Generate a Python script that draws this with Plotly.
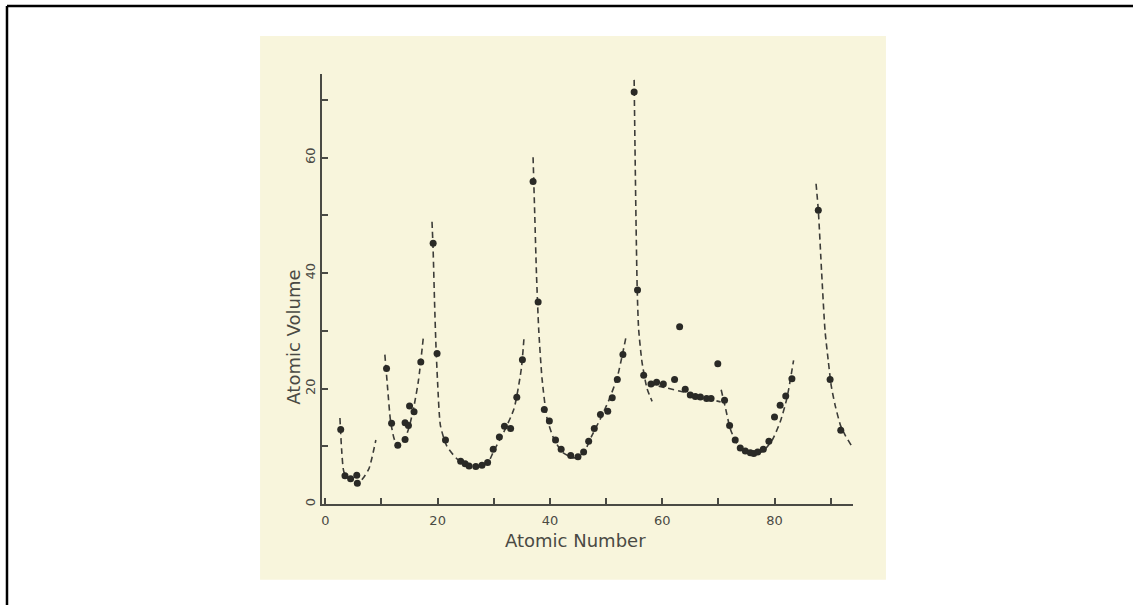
import plotly.graph_objects as go

# ---------------- data ----------------
# measured points: atomic number vs atomic volume
pts_x = [2.74, 3.5, 4.5, 5.6, 5.7,
         10.9, 11.8, 12.9, 14.2, 14.2, 14.8, 15.0, 15.8, 17.0,
         19.2, 19.9, 21.4, 24.1, 24.9, 25.6, 26.8, 27.9, 28.9, 29.9, 31.0, 31.9, 33.0, 34.1, 35.1,
         37.0, 37.9, 39.0, 39.9, 41.0, 42.0, 43.7, 45.0, 46.0, 46.9, 47.9, 49.0, 50.3, 51.1, 52.0, 53.0,
         55.0, 55.6, 56.7, 58.0, 59.0, 60.2, 62.2, 63.1, 64.1, 65.0, 65.9, 66.8, 67.9, 68.7, 69.9, 71.1,
         72.0, 73.0, 73.9, 74.8, 75.7, 76.3, 77.0, 78.0, 79.0, 80.0, 81.0, 82.0, 83.1,
         87.8, 89.9, 91.8]
pts_y = [12.9, 4.9, 4.4, 5.0, 3.6,
         23.5, 14.0, 10.2, 11.2, 14.1, 13.6, 17.0, 16.0, 24.6,
         45.2, 26.1, 11.1, 7.4, 7.0, 6.6, 6.5, 6.7, 7.2, 9.5, 11.6, 13.5, 13.1, 18.5, 25.0,
         55.9, 35.0, 16.4, 14.4, 11.1, 9.5, 8.4, 8.2, 9.0, 10.9, 13.1, 15.5, 16.1, 18.4, 21.6, 25.9,
         71.4, 37.1, 22.3, 20.8, 21.1, 20.8, 21.6, 30.7, 19.9, 18.9, 18.65, 18.55, 18.3, 18.3, 24.3, 18.0,
         13.6, 11.1, 9.7, 9.2, 8.9, 8.75, 9.0, 9.5, 10.9, 15.1, 17.1, 18.7, 21.7,
         50.9, 21.6, 12.8]

# hand-drawn dashed curves (one per period segment)
c1_x = [2.6, 2.9, 3.3, 4.2, 5.6, 6.9, 7.8, 9.0]
c1_y = [14.9, 9.5, 5.6, 4.3, 3.3, 4.7, 6.2, 11.1]

c2_x = [10.6, 11.1, 11.6, 12.2, 12.8, 13.5, 14.2, 15.0, 15.8, 16.6, 17.5]
c2_y = [25.9, 20.0, 14.5, 11.5, 10.1, 10.3, 11.3, 13.6, 17.0, 21.5, 29.3]

c3_x = [19.0, 19.2, 19.45, 19.7, 20.0, 20.5, 21.6, 23.5, 26.6, 28.9, 30.0, 31.8, 33.6, 34.9, 35.4]
c3_y = [48.9, 44.0, 35.0, 27.5, 21.0, 13.6, 10.1, 7.8, 6.4, 7.1, 9.2, 12.5, 16.5, 23.4, 29.0]

c4_x = [37.0, 37.3, 37.6, 38.0, 38.6, 39.5, 40.7, 42.2, 44.3, 46.0, 47.5, 49.0, 50.5, 52.0, 53.5]
c4_y = [60.1, 50.0, 40.0, 30.3, 21.7, 14.8, 11.3, 9.0, 8.0, 8.9, 11.9, 14.8, 18.0, 22.0, 28.7]

c5_x = [55.0, 55.15, 55.35, 55.55, 55.8, 56.4, 57.3, 58.2]
c5_y = [73.5, 62.0, 48.0, 37.0, 30.3, 24.6, 20.0, 17.8]

c6_x = [57.6, 60.9, 63.8, 66.8, 70.4]
c6_y = [20.8, 20.1, 19.4, 18.55, 17.7]

c7_x = [70.5, 71.3, 72.1, 73.3, 75.1, 76.6, 78.1, 79.6, 81.0, 82.2, 83.4]
c7_y = [19.8, 16.5, 13.1, 10.5, 9.05, 8.6, 9.3, 11.1, 14.2, 18.3, 24.9]

c8_x = [87.4, 87.8, 88.4, 89.0, 89.6, 90.1, 90.8, 91.8, 92.6, 93.7]
c8_y = [55.5, 50.9, 40.0, 30.0, 24.6, 20.5, 17.1, 13.5, 11.9, 10.1]

x_ticks = [0, 10, 20, 30, 40, 50, 60, 70, 80, 90]
x_tick_text = ['0', '', '20', '', '40', '', '60', '', '80', '']
y_ticks = [0, 10, 20, 30, 40, 50, 60, 70]
y_tick_text = ['0', '', '20', '', '40', '', '60', '']

# ---------------- figure ----------------
W, H = 1133, 607
INK = '#4a4a44'
LINE = '#3c3c38'
DOT = '#2a2a26'
CREAM = '#f8f5dc'
FONT = 'DejaVu Sans'

fig = go.Figure()

curves = [(c1_x, c1_y), (c2_x, c2_y), (c3_x, c3_y), (c4_x, c4_y),
          (c5_x, c5_y), (c6_x, c6_y), (c7_x, c7_y), (c8_x, c8_y)]
for cx, cy in curves:
    fig.add_trace(go.Scatter(x=cx, y=cy, mode='lines',
                             line=dict(color=LINE, width=1.6, dash='6px,4px',
                                       shape='spline', smoothing=0.6),
                             hoverinfo='skip', showlegend=False))

fig.add_trace(go.Scatter(x=pts_x, y=pts_y, mode='markers',
                         marker=dict(color=DOT, size=7, line=dict(width=0)),
                         showlegend=False))

def px_x(v):
    return v / W

def px_y(v):
    return 1 - v / H

shapes = [
    # scanned page background
    dict(type='rect', xref='paper', yref='paper', layer='below',
         x0=px_x(259.3), x1=px_x(885.7), y0=px_y(581.7), y1=px_y(36),
         fillcolor=CREAM, line=dict(width=0)),
    # outer frame (top and left)
    dict(type='line', xref='paper', yref='paper',
         x0=px_x(6), x1=1, y0=px_y(6), y1=px_y(6),
         line=dict(color='black', width=2.5)),
    dict(type='line', xref='paper', yref='paper',
         x0=px_x(6), x1=px_x(6), y0=0, y1=px_y(6),
         line=dict(color='black', width=2.5)),
]

annotations = [
    dict(text='Atomic Number', xref='paper', yref='paper',
         x=px_x(575), y=px_y(542), showarrow=False,
         xanchor='center', yanchor='middle',
         font=dict(family=FONT, size=18, color=INK)),
    dict(text='Atomic Volume', xref='paper', yref='paper',
         x=px_x(293), y=px_y(338), showarrow=False, textangle=-90,
         xanchor='center', yanchor='middle',
         font=dict(family=FONT, size=18, color=INK)),
]

fig.update_layout(
    width=W, height=H, autosize=False,
    margin=dict(l=0, r=0, t=0, b=0),
    paper_bgcolor='white', plot_bgcolor='rgba(0,0,0,0)',
    shapes=shapes, annotations=annotations,
    xaxis=dict(domain=[px_x(321.7), px_x(852.7)], range=[-0.52, 93.97],
               showgrid=False, zeroline=False, showline=True,
               linecolor=INK, linewidth=1.6,
               tickmode='array', tickvals=x_ticks, ticktext=x_tick_text,
               ticks='inside', ticklen=6, tickwidth=1.5, tickcolor=INK,
               ticklabelstandoff=4,
               tickfont=dict(family=FONT, size=13, color=INK)),
    yaxis=dict(domain=[px_y(505.7), px_y(74)], range=[0, 74.56],
               showgrid=False, zeroline=False, showline=True,
               linecolor=INK, linewidth=1.6,
               tickmode='array', tickvals=y_ticks, ticktext=y_tick_text,
               ticks='inside', ticklen=6, tickwidth=1.5, tickcolor=INK,
               tickangle=-90,
               tickfont=dict(family=FONT, size=13, color=INK)),
)

fig.write_html('out.html', config={'displayModeBar': False},
               post_script="document.body.style.margin='0';document.body.style.overflow='hidden';")
